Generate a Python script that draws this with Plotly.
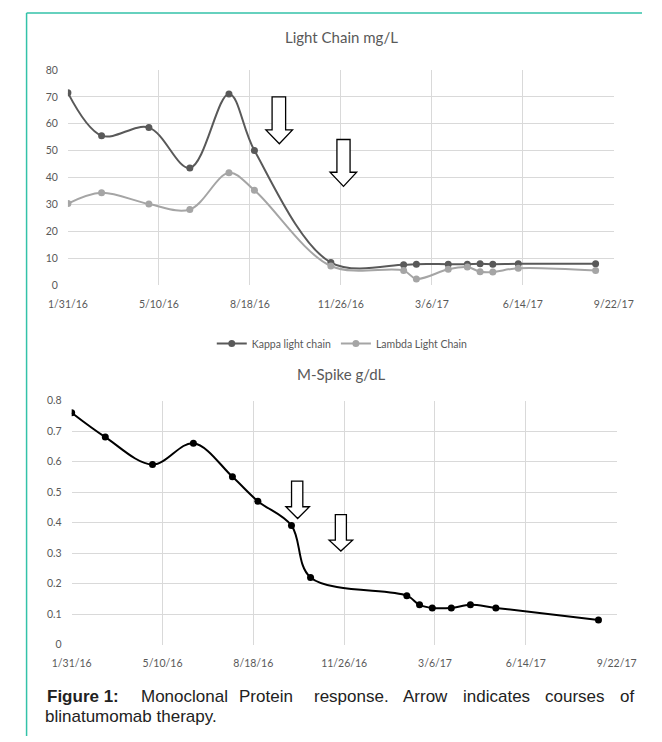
import plotly.graph_objects as go

W, H = 662, 742

# ---------------- data ----------------
light_dates = ["2016-01-31", "2016-03-08", "2016-04-29", "2016-06-13", "2016-07-26",
               "2016-08-23", "2016-11-15", "2017-02-03", "2017-02-17", "2017-03-24",
               "2017-04-14", "2017-04-28", "2017-05-12", "2017-06-09", "2017-09-02"]
kappa = [71.5, 55.6, 58.6, 43.6, 71.1, 50.1, 8.5, 7.7, 7.9, 7.9, 7.9, 8.0, 7.9, 8.0, 8.0]
lambda_lc = [30.4, 34.4, 30.2, 28.2, 41.8, 35.3, 7.2, 5.5, 2.4, 6.0, 6.8, 5.1, 5.0, 6.4, 5.5]

mspike_dates = ["2016-01-31", "2016-03-08", "2016-04-29", "2016-06-13", "2016-07-26",
                "2016-08-23", "2016-09-29", "2016-10-20", "2017-02-03", "2017-02-17",
                "2017-03-03", "2017-03-24", "2017-04-14", "2017-05-12", "2017-09-02"]
mspike = [0.76, 0.68, 0.59, 0.66, 0.55, 0.47, 0.39, 0.22, 0.16, 0.13, 0.12, 0.12, 0.13, 0.12, 0.08]

tick_dates = ["2016-01-31", "2016-05-10", "2016-08-18", "2016-11-26",
              "2017-03-06", "2017-06-14", "2017-09-22"]
tick_labels = ["1/31/16", "5/10/16", "8/18/16", "11/26/16", "3/6/17", "6/14/17", "9/22/17"]

series_names = ["Kappa light chain", "Lambda Light Chain"]
title_top = "Light Chain mg/L"
title_bottom = "M-Spike g/dL"
caption_words = ["<b>Figure 1:</b>", "Monoclonal", "Protein", "response.", "Arrow",
                 "indicates", "courses", "of"]
caption_line2 = "blinatumomab therapy."

# ---------------- helpers ----------------
def px(p):
    return p / W


def py(p):
    return 1 - p / H


CHART_FONT = "Lato, 'Open Sans', sans-serif"
TXT = "#595959"
GRID = "#d9d9d9"

fig = go.Figure()

fig.add_trace(go.Scatter(
    x=light_dates, y=kappa, name=series_names[0], mode="lines+markers",
    line=dict(color="#595959", width=2, shape="spline", smoothing=1.0),
    marker=dict(color="#595959", size=7), xaxis="x", yaxis="y"))
fig.add_trace(go.Scatter(
    x=light_dates, y=lambda_lc, name=series_names[1], mode="lines+markers",
    line=dict(color="#a5a5a5", width=2, shape="spline", smoothing=1.0),
    marker=dict(color="#a5a5a5", size=7), xaxis="x", yaxis="y"))
fig.add_trace(go.Scatter(
    x=mspike_dates, y=mspike, name="M-Spike", mode="lines+markers", showlegend=False,
    line=dict(color="#000000", width=2, shape="spline", smoothing=1.0),
    marker=dict(color="#000000", size=7), xaxis="x2", yaxis="y2"))

xcommon = dict(type="date", range=[tick_dates[0], tick_dates[-1]], tickmode="array",
               tickvals=tick_dates, ticktext=tick_labels, showgrid=True, gridcolor=GRID,
               gridwidth=1, zeroline=False, showline=False, ticks="",
               tickfont=dict(family=CHART_FONT, size=10.5, color=TXT),
               ticklabelstandoff=11, fixedrange=True)
ycommon = dict(showgrid=True, gridcolor=GRID, gridwidth=1, zeroline=False,
               showline=False, ticks="",
               tickfont=dict(family=CHART_FONT, size=10.5, color=TXT),
               ticklabelstandoff=9, fixedrange=True)

fig.update_layout(
    width=W, height=H, margin=dict(l=0, r=0, t=0, b=0),
    paper_bgcolor="white", plot_bgcolor="white",
    xaxis=dict(domain=[px(51), px(632)], anchor="y", **xcommon),
    yaxis=dict(domain=[py(284), py(65)], anchor="x", range=[0, 80], dtick=10, **ycommon),
    xaxis2=dict(domain=[px(55), px(635)], anchor="y2", **xcommon),
    yaxis2=dict(domain=[py(649), py(401)], anchor="x2", range=[0, 0.8], dtick=0.1, **ycommon),
    showlegend=True,
    legend=dict(orientation="h", x=px(343), y=py(343), xanchor="center", yanchor="middle",
                font=dict(family=CHART_FONT, size=10.5, color=TXT),
                bgcolor="rgba(0,0,0,0)", itemwidth=30, tracegroupgap=0),
)

annotations = [
    dict(text=title_top, x=px(342), y=py(32), xref="paper", yref="paper", showarrow=False,
         xanchor="center", yanchor="middle", font=dict(family=CHART_FONT, size=15, color=TXT)),
    dict(text=title_bottom, x=px(342), y=py(374), xref="paper", yref="paper", showarrow=False,
         xanchor="center", yanchor="middle", font=dict(family=CHART_FONT, size=15, color=TXT)),
]

# justified caption: first line placed word by word (word centres in px)
cap_font = dict(family="Liberation Sans, Arial, sans-serif", size=17, color="#222222")
word_centre = [67.5, 175, 261.5, 352.5, 431.5, 507, 591, 646.5]
for wtxt, wc in zip(caption_words, word_centre):
    annotations.append(dict(text=wtxt, x=px(wc), y=py(702), xref="paper", yref="paper",
                            showarrow=False, xanchor="center", yanchor="middle", font=cap_font))
annotations.append(dict(text=caption_line2, x=px(25), y=py(722), xref="paper", yref="paper",
                        showarrow=False, xanchor="left", yanchor="middle", font=cap_font))

# hollow block arrows marking blinatumomab courses (pixel layout specs)
arrow_specs = [
    # shaft_l, shaft_r, head_l, head_r, top, head_y, tip_y, center_x
    (268.3, 282.7, 261.7, 290.0, 92.3, 126.0, 140.0, 276.0),
    (337.3, 351.3, 330.0, 358.3, 135.7, 169.0, 183.3, 344.3),
    (289.0, 301.0, 283.0, 308.0, 483.0, 509.0, 521.0, 295.5),
    (335.6, 347.4, 329.0, 354.0, 517.0, 543.0, 554.0, 341.5),
]
shapes = []
for sl, sr, hl, hr, t, hy, ty, cx in arrow_specs:
    pts = [(sl, t), (sr, t), (sr, hy), (hr, hy), (cx, ty), (hl, hy), (sl, hy)]
    path = "M " + " L ".join(f"{px(a):.5f},{py(b):.5f}" for a, b in pts) + " Z"
    shapes.append(dict(type="path", path=path, xref="paper", yref="paper",
                       line=dict(color="#000000", width=1.3), fillcolor="white", layer="above"))

# teal frame (top and left)
teal = "#33c2a8"
shapes.append(dict(type="line", x0=px(7), x1=1, y0=py(7), y1=py(7), xref="paper", yref="paper",
                   line=dict(color=teal, width=1.5)))
shapes.append(dict(type="line", x0=px(7), x1=px(7), y0=py(7), y1=0, xref="paper", yref="paper",
                   line=dict(color=teal, width=1.5)))
fig.update_layout(shapes=shapes, annotations=annotations)

fig.write_html("out.html", config={"displayModeBar": False},
               post_script="document.body.style.margin='0';document.body.style.overflow='hidden';")
